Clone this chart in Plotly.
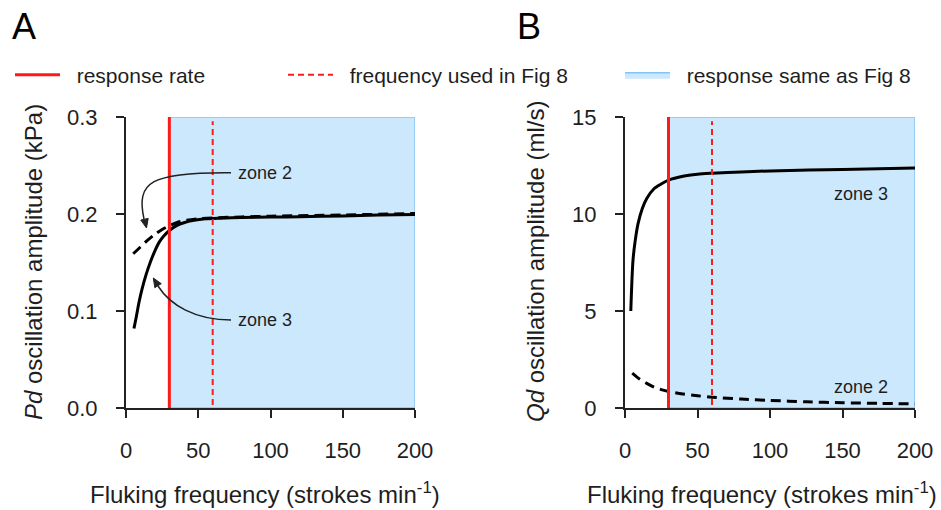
import math
import plotly.graph_objects as go

# ---------------- data ----------------
freq_ticks = [0, 50, 100, 150, 200]
pd_ticks = [0.0, 0.1, 0.2, 0.3]
pd_tick_text = ["0.0", "0.1", "0.2", "0.3"]
qd_ticks = [0, 5, 10, 15]

response_rate = 30      # strokes/min
fig8_freq = 60          # strokes/min
freq_max = 200
pd_max = 0.3
qd_max = 15

# Panel A: Pd oscillation amplitude (kPa)
freq_pd_zone3 = [5.5, 7, 9, 11, 14, 17, 20, 23, 26, 30, 35, 40, 47, 55, 65, 80, 100, 120, 150, 175, 200]
pd_zone3 = [0.082, 0.093, 0.109, 0.122, 0.138, 0.151, 0.162, 0.171, 0.177, 0.183, 0.188, 0.191,
            0.1935, 0.195, 0.1957, 0.1963, 0.1968, 0.1972, 0.198, 0.199, 0.1995]
freq_pd_zone2 = [5, 10, 15, 20, 25, 30, 35, 40, 50, 60, 80, 100, 150, 200]
pd_zone2 = [0.159, 0.166, 0.173, 0.179, 0.184, 0.188, 0.191, 0.193, 0.195, 0.196, 0.197, 0.1978, 0.199, 0.2005]

# Panel B: Qd oscillation amplitude (ml/s)
freq_qd_zone3 = [4, 5.5, 7, 9, 12, 15, 20, 25, 30, 40, 50, 60, 80, 100, 150, 200]
qd_zone3 = [5.0, 7.6, 8.6, 9.5, 10.3, 10.8, 11.3, 11.55, 11.75, 11.95, 12.05, 12.1, 12.17, 12.22, 12.3, 12.37]
freq_qd_zone2 = [5, 10, 15, 20, 25, 30, 40, 50, 60, 80, 100, 125, 150, 175, 200]
qd_zone2 = [1.8, 1.5, 1.27, 1.08, 0.95, 0.85, 0.72, 0.63, 0.56, 0.46, 0.39, 0.32, 0.27, 0.24, 0.21]

legend_labels = ["response rate", "frequency used in Fig 8", "response same as Fig 8"]

# ---------------- layout geometry (pixels) ----------------
W, H = 941, 510
A_X0, A_X1 = 126, 415
B_X0, B_X1 = 625, 915
Y_TOP, Y_BOT = 117, 408

FONT = "Liberation Sans, Arial, sans-serif"
TXT = "#1e1e1e"
RED = "#ff1a1a"
FILL = "rgba(204,232,252,1)"
EDGE = "rgb(130,196,245)"
PAD = "\u00a0\u00a0"

fig = go.Figure()

def add_panel(xa, ya, f3, v3, f2, v2, ymax, show):
    fig.add_trace(go.Scatter(
        x=[response_rate, freq_max, freq_max, response_rate, response_rate],
        y=[0, 0, ymax, ymax, 0], mode="lines", fill="toself",
        fillcolor=FILL, line=dict(color=EDGE, width=1.5),
        name=PAD + legend_labels[2], legend="legend3", showlegend=show,
        xaxis=xa, yaxis=ya, hoverinfo="skip"))
    fig.add_trace(go.Scatter(x=f3, y=v3, mode="lines",
        line=dict(color="black", width=3, shape="spline", smoothing=0.8),
        showlegend=False, xaxis=xa, yaxis=ya, name="zone 3"))
    fig.add_trace(go.Scatter(x=f2, y=v2, mode="lines",
        line=dict(color="black", width=3, dash="10px,6px", shape="spline", smoothing=0.8),
        showlegend=False, xaxis=xa, yaxis=ya, name="zone 2"))
    fig.add_trace(go.Scatter(x=[response_rate, response_rate], y=[0, ymax], mode="lines",
        line=dict(color=RED, width=3), name=PAD + legend_labels[0], legend="legend",
        showlegend=show, xaxis=xa, yaxis=ya))
    fig.add_trace(go.Scatter(x=[fig8_freq, fig8_freq], y=[0.01 * ymax, 0.985 * ymax], mode="lines",
        line=dict(color=RED, width=2, dash="6px,4px"), name=PAD + legend_labels[1],
        legend="legend2", showlegend=show, xaxis=xa, yaxis=ya))

add_panel("x", "y", freq_pd_zone3, pd_zone3, freq_pd_zone2, pd_zone2, pd_max, True)
add_panel("x2", "y2", freq_qd_zone3, qd_zone3, freq_qd_zone2, qd_zone2, qd_max, False)

axis_common = dict(showline=True, linewidth=2, linecolor="#222", ticks="outside",
                   ticklen=8, tickwidth=2, tickcolor="#222", showgrid=False, zeroline=False,
                   automargin=False, tickfont=dict(family=FONT, size=22, color=TXT))
leg_common = dict(y=1 - 75 / H, xanchor="left", yanchor="middle", orientation="h",
                  itemwidth=45, font=dict(family=FONT, size=21, color=TXT),
                  bgcolor="rgba(0,0,0,0)")

fig.update_layout(
    width=W, height=H, margin=dict(l=0, r=0, t=0, b=0, autoexpand=False),
    plot_bgcolor="white", paper_bgcolor="white",
    font=dict(family=FONT, color=TXT),
    xaxis=dict(domain=[A_X0 / W, A_X1 / W], range=[0, freq_max], tickvals=freq_ticks,
               ticklabelstandoff=14, **axis_common),
    yaxis=dict(domain=[1 - Y_BOT / H, 1 - Y_TOP / H], range=[0, pd_max], tickvals=pd_ticks,
               ticktext=pd_tick_text, ticklabelstandoff=14, **axis_common),
    xaxis2=dict(domain=[B_X0 / W, B_X1 / W], range=[0, freq_max], tickvals=freq_ticks,
                ticklabelstandoff=14, anchor="y2", **axis_common),
    yaxis2=dict(domain=[1 - Y_BOT / H, 1 - Y_TOP / H], range=[0, qd_max], tickvals=qd_ticks,
                ticklabelstandoff=14, anchor="x2", **axis_common),
    legend=dict(x=10 / W, **leg_common),
    legend2=dict(x=283 / W, **leg_common),
    legend3=dict(x=620 / W, **leg_common),
)

# axis titles
title_font = dict(family=FONT, size=24, color=TXT)
for cx in [(A_X0 + A_X1) / 2 - 6, (B_X0 + B_X1) / 2 - 8]:
    fig.add_annotation(x=cx / W, y=1 - 493 / H, xref="paper", yref="paper",
                       text="Fluking frequency (strokes min<sup>-1</sup>)", showarrow=False,
                       xanchor="center", yanchor="middle", font=title_font)
fig.add_annotation(x=33 / W, y=1 - 262 / H, xref="paper", yref="paper", textangle=-90,
                   text="<i>Pd</i> oscillation amplitude (kPa)", showarrow=False,
                   xanchor="center", yanchor="middle", font=title_font)
fig.add_annotation(x=535 / W, y=1 - 262 / H, xref="paper", yref="paper", textangle=-90,
                   text="<i>Qd</i> oscillation amplitude (ml/s)", showarrow=False,
                   xanchor="center", yanchor="middle", font=title_font)

# curved annotation arrows in panel A (geometry in pixels, converted to data units)
def px_to_a(px, py):
    return ((px - A_X0) * freq_max / (A_X1 - A_X0), (Y_BOT - py) * pd_max / (Y_BOT - Y_TOP))

arrows = [
    # P0, P1, P2, P3 (cubic bezier, pixels), tip
    [(231, 172.7), (150, 172), (136, 182), (144, 219), (146.5, 228)],
    [(231, 320), (195, 320), (170, 305), (158, 286), (153.3, 278)],
]
for p0, p1, p2, p3, tip in arrows:
    pts = [px_to_a(*p) for p in (p0, p1, p2, p3)]
    path = "M {},{} C {},{} {},{} {},{}".format(*[c for pt in pts for c in pt])
    fig.add_shape(type="path", path=path, xref="x", yref="y",
                  line=dict(color="#222", width=1.5))
    dx, dy = tip[0] - p2[0], tip[1] - p2[1]
    n = math.hypot(dx, dy)
    ux, uy = dx / n, dy / n
    bx, by = tip[0] - 9 * ux, tip[1] - 9 * uy
    c1 = (bx - 3.8 * uy, by + 3.8 * ux)
    c2 = (bx + 3.8 * uy, by - 3.8 * ux)
    tri = [px_to_a(*p) for p in (tip, c1, c2)]
    fig.add_shape(type="path", xref="x", yref="y",
                  path="M {},{} L {},{} L {},{} Z".format(*[c for pt in tri for c in pt]),
                  fillcolor="#222", line=dict(color="#222", width=1))

zone_font = dict(family=FONT, size=18, color=TXT)
fig.add_annotation(x=76, y=0.2426, xref="x", yref="y", text="zone 2", showarrow=False,
                   xanchor="left", yanchor="middle", font=zone_font)
fig.add_annotation(x=76, y=0.0907, xref="x", yref="y", text="zone 3", showarrow=False,
                   xanchor="left", yanchor="middle", font=zone_font)
fig.add_annotation(x=143, y=11.05, xref="x2", yref="y2", text="zone 3", showarrow=False,
                   xanchor="left", yanchor="middle", font=zone_font)
fig.add_annotation(x=143, y=1.1, xref="x2", yref="y2", text="zone 2", showarrow=False,
                   xanchor="left", yanchor="middle", font=zone_font)

# panel letters
for letter, px in [("A", 10), ("B", 515)]:
    fig.add_annotation(x=px / W, y=1 - 26 / H, xref="paper", yref="paper", text=letter,
                       showarrow=False, xanchor="left", yanchor="middle",
                       font=dict(family=FONT, size=36, color="black"))

fig.write_html("out.html", config={"displayModeBar": False},
               post_script="document.body.style.margin='0px';")
